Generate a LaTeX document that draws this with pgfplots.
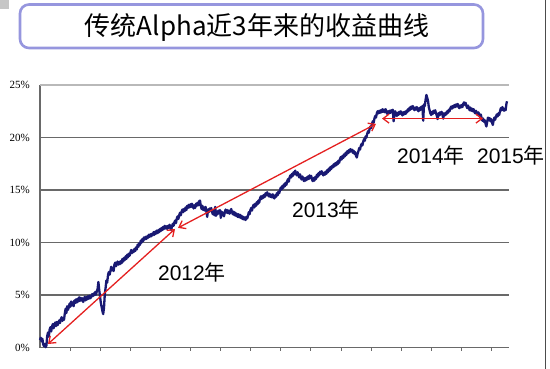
\documentclass[border=0pt]{standalone}
\usepackage{pgfplots}
\pgfplotsset{compat=1.18}
\usepackage{pgfplotstable}
\usepackage{fontspec}
\setmainfont{Liberation Serif}
\newfontfamily\cjk{Noto Sans CJK SC}
\newfontfamily\arial{Liberation Sans}
\usetikzlibrary{arrows.meta}
\definecolor{navyc}{RGB}{25,25,115}
\definecolor{redc}{RGB}{228,32,32}
\definecolor{boxc}{RGB}{150,150,222}
\definecolor{gridc}{RGB}{105,105,105}
\pgfplotstableread{
x y
0 0.73
0.8 0.95
1.6 0.6
2.4 0.85
3.2 0.3
4 0.15
4.8 0.35
5.6 0.05
6.4 0.2
7.2 1.1
8 1.45
8.8 1.05
9.6 1.7
10.4 1.95
11.2 1.55
12 2.0
12.8 2.25
13.6 1.85
14.4 2.2
15.2 2.4
16 2.05
16.8 2.45
17.6 2.15
18.4 2.35
19.2 2.6
20 2.35
20.8 2.7
21.6 2.9
22.4 2.55
23.2 2.85
24 2.65
24.8 3.25
25.6 3.7
26.4 3.3
27.2 3.95
28 3.6
28.8 3.85
29.6 4.2
30.4 3.9
31.2 4.4
32 4.05
32.8 4.3
33.6 3.95
34.4 4.5
35.2 4.25
36 4.6
36.8 4.3
37.6 4.65
38.4 4.4
39.2 4.8
40 4.45
40.8 4.75
41.6 4.5
42.4 4.7
43.2 4.35
44 4.6
44.8 4.85
45.6 4.5
46.4 4.8
47.2 4.6
48 4.9
48.8 4.65
49.6 4.95
50.4 4.7
51.2 4.85
52 5.1
52.8 4.9
53.6 5.15
54.4 5.0
55.2 5.3
56 5.05
56.8 5.35
57.6 5.6
58.4 6.25
59.2 5.5
60 4.9
60.8 4.3
61.6 3.9
62.4 3.5
63.2 3.2
64 3.8
64.8 5.1
65.6 5.7
66.4 6.4
67.2 6.2
68 6.9
68.8 7.2
69.6 6.95
70.4 7.3
71.2 7.7
72 7.35
72.8 7.6
73.6 7.3
74.4 7.9
75.2 8.1
76 7.75
76.8 8.0
77.6 8.2
78.4 7.9
79.2 8.15
80 7.95
80.8 8.25
81.6 8.05
82.4 8.45
83.2 8.2
84 8.55
84.8 8.35
85.6 8.7
86.4 8.45
87.2 8.85
88 8.6
88.8 8.95
89.6 8.75
90.4 9.05
91.2 9.3
92 9.0
92.8 9.25
93.6 9.1
94.4 9.4
95.2 9.2
96 9.55
96.8 9.35
97.6 9.8
98.4 9.6
99.2 9.95
100 9.8
100.8 10.2
101.6 10.0
102.4 10.35
103.2 10.15
104 10.5
104.8 10.3
105.6 10.55
106.4 10.35
107.2 10.6
108 10.45
108.8 10.75
109.6 10.55
110.4 10.8
111.2 10.6
112 10.85
112.8 10.7
113.6 11.0
114.4 10.75
115.2 11.05
116 10.85
116.8 11.15
117.6 10.9
118.4 11.2
119.2 11.0
120 11.3
120.8 11.1
121.6 11.4
122.4 11.2
123.2 11.5
124 11.3
124.8 11.6
125.6 11.35
126.4 11.55
127.2 11.3
128 11.6
128.8 11.4
129.6 11.7
130.4 11.45
131.2 11.2
132 11.55
132.8 11.8
133.6 11.6
134.4 11.95
135.2 12.1
136 11.85
136.8 12.3
137.6 12.5
138.4 12.25
139.2 12.6
140 12.85
140.8 12.6
141.6 12.95
142.4 13.15
143.2 12.9
144 13.2
144.8 13.0
145.6 13.35
146.4 13.1
147.2 13.5
148 13.3
148.8 13.6
149.6 13.35
150.4 13.65
151.2 13.4
152 13.7
152.8 13.5
153.6 13.25
154.4 13.55
155.2 13.3
156 13.7
156.8 13.5
157.6 13.8
158.4 13.55
159.2 13.95
160 14.0
160.8 13.5
161.6 13.2
162.4 13.5
163.2 13.1
164 13.35
164.8 13.05
165.6 13.4
166.4 13.0
167.2 12.45
168 13.15
168.8 12.9
169.6 13.25
170.4 13.0
171.2 13.3
172 12.95
172.8 12.7
173.6 13.05
174.4 12.6
175.2 13.4
176 12.55
176.8 12.95
177.6 12.7
178.4 13.05
179.2 12.8
180 13.1
180.8 12.35
181.6 12.95
182.4 12.6
183.2 12.85
184 12.5
184.8 12.9
185.6 13.15
186.4 12.85
187.2 13.1
188 12.8
188.8 13.05
189.6 12.75
190.4 13.0
191.2 13.2
192 12.9
192.8 12.7
193.6 12.95
194.4 12.6
195.2 12.85
196 12.55
196.8 12.75
197.6 12.45
198.4 12.7
199.2 12.4
200 12.65
200.8 12.35
201.6 12.55
202.4 12.25
203.2 12.45
204 12.2
204.8 12.4
205.6 12.15
206.4 12.45
207.2 12.3
208 12.55
208.8 12.9
209.6 12.7
210.4 13.1
211.2 13.3
212 13.05
212.8 13.4
213.6 13.6
214.4 13.35
215.2 13.7
216 13.5
216.8 13.85
217.6 13.65
218.4 14.0
219.2 13.8
220 14.2
220.8 14.4
221.6 14.15
222.4 14.45
223.2 14.25
224 14.55
224.8 14.35
225.6 14.7
226.4 14.5
227.2 14.8
228 14.6
228.8 14.4
229.6 14.65
230.4 14.35
231.2 14.55
232 14.3
232.8 14.6
233.6 14.35
234.4 14.2
235.2 14.5
236 14.35
236.8 14.7
237.6 14.5
238.4 14.85
239.2 14.7
240 15.0
240.8 15.25
241.6 15.05
242.4 15.4
243.2 15.2
244 15.55
244.8 15.35
245.6 15.7
246.4 15.5
247.2 15.85
248 16.05
248.8 15.8
249.6 16.2
250.4 16.4
251.2 16.2
252 16.55
252.8 16.35
253.6 16.7
254.4 16.5
255.2 16.85
256 16.6
256.8 16.4
257.6 16.7
258.4 16.45
259.2 16.2
260 16.5
260.8 16.25
261.6 16.0
262.4 16.3
263.2 16.05
264 15.85
264.8 16.15
265.6 15.9
266.4 16.2
267.2 16.0
268 16.3
268.8 16.05
269.6 16.4
270.4 16.15
271.2 16.35
272 16.0
272.8 15.85
273.6 16.15
274.4 15.9
275.2 16.25
276 16.05
276.8 16.45
277.6 16.25
278.4 16.6
279.2 16.4
280 16.75
280.8 16.55
281.6 16.8
282.4 16.6
283.2 16.4
284 16.65
284.8 16.45
285.6 16.75
286.4 16.55
287.2 16.9
288 16.7
288.8 17.05
289.6 16.85
290.4 17.2
291.2 17.0
292 17.3
292.8 17.15
293.6 17.45
294.4 17.25
295.2 17.55
296 17.35
296.8 17.65
297.6 17.45
298.4 17.8
299.2 17.6
300 17.95
300.8 18.15
301.6 17.9
302.4 18.25
303.2 18.05
304 18.4
304.8 18.2
305.6 18.55
306.4 18.35
307.2 18.7
308 18.5
308.8 18.8
309.6 18.6
310.4 18.9
311.2 18.7
312 18.85
312.8 18.55
313.6 18.75
314.4 18.45
315.2 18.6
316 18.25
316.8 18.1
317.6 18.45
318.4 18.7
319.2 19.0
320 18.85
320.8 19.2
321.6 19.4
322.4 19.25
323.2 19.6
324 19.85
324.8 19.7
325.6 20.1
326.4 20.0
327.2 20.35
328 20.6
328.8 20.45
329.6 20.85
330.4 21.05
331.2 20.9
332 21.3
332.8 21.55
333.6 21.4
334.4 21.8
335.2 22.05
336 21.9
336.8 22.3
337.6 22.5
338.4 22.3
339.2 22.55
340 22.35
340.8 22.6
341.6 22.4
342.4 22.7
343.2 22.45
344 22.65
344.8 22.4
345.6 22.7
346.4 22.5
347.2 22.25
348 22.5
348.8 22.3
349.6 22.55
350.4 22.35
351.2 22.6
352 22.4
352.8 22.65
353.6 21.55
354.4 22.2
355.2 22.5
356 22.3
356.8 22.05
357.6 22.35
358.4 22.15
359.2 22.45
360 22.25
360.8 22.5
361.6 22.3
362.4 22.1
363.2 22.4
364 22.2
364.8 22.45
365.6 22.25
366.4 22.55
367.2 22.4
368 22.7
368.8 22.55
369.6 22.85
370.4 22.65
371.2 22.95
372 22.75
372.8 23.0
373.6 22.8
374.4 22.6
375.2 22.85
376 22.65
376.8 22.9
377.6 22.7
378.4 22.5
379.2 22.8
380 22.6
380.8 22.9
381.6 22.7
382.4 23.0
383.2 21.6
384 23.15
384.8 23.0
385.6 23.6
386.4 24.05
387.2 23.8
388 23.5
388.8 22.9
389.6 22.6
390.4 22.3
391.2 22.15
392 22.45
392.8 22.25
393.6 22.55
394.4 22.35
395.2 22.6
396 22.3
396.8 22.1
397.6 21.75
398.4 22.3
399.2 22.1
400 22.4
400.8 22.2
401.6 22.45
402.4 22.25
403.2 21.8
404 22.3
404.8 22.1
405.6 22.35
406.4 22.2
407.2 22.5
408 22.35
408.8 22.65
409.6 22.5
410.4 22.8
411.2 22.95
412 22.75
412.8 23.0
413.6 22.85
414.4 23.1
415.2 22.9
416 23.15
416.8 22.95
417.6 23.2
418.4 23.0
419.2 22.8
420 23.05
420.8 22.85
421.6 23.1
422.4 22.9
423.2 23.2
424 23.35
424.8 23.1
425.6 23.3
426.4 23.0
427.2 22.8
428 23.05
428.8 22.85
429.6 22.6
430.4 22.85
431.2 22.55
432 22.75
432.8 22.5
433.6 22.7
434.4 22.45
435.2 22.3
436 22.55
436.8 22.35
437.6 22.15
438.4 22.4
439.2 22.2
440 21.95
440.8 22.2
441.6 21.85
442.4 21.6
443.2 21.8
444 21.5
444.8 21.65
445.6 21.3
446.4 21.05
447.2 21.5
448 21.9
448.8 21.65
449.6 21.85
450.4 21.55
451.2 21.75
452 21.45
452.8 21.2
453.6 21.6
454.4 21.9
455.2 21.7
456 22.0
456.8 22.2
457.6 22.0
458.4 22.3
459.2 22.15
460 22.5
460.8 22.8
461.6 22.6
462.4 22.9
463.2 22.7
464 22.55
464.8 22.75
465.6 22.6
466.4 23.2
467 23.45
}\curve
\begin{document}
\begin{tikzpicture}[x=1pt,y=1pt]
\path[use as bounding box] (0,0) rectangle (550,369);
\fill[gray!45] (0,369) rectangle (9,360);
\draw[boxc, line width=2.6pt, rounded corners=9pt] (20,364.5) rectangle (483,321);
\node at (257,341) {\cjk\fontsize{26}{26}\selectfont 传统Alpha近3年来的收益曲线};
\draw[gray!60!black, line width=0.8pt] (545.5,0) -- (545.5,369);
\begin{axis}[
  at={(40pt,21.3pt)}, anchor=south west,
  scale only axis, width=469pt, height=262.7pt,
  xmin=0, xmax=469, ymin=0, ymax=25,
  axis x line*=bottom, axis y line*=left,
  axis line style={-, gridc, line width=1.4pt},
  xtick={30.1,60.2,90.3,120.4,150.5,180.6,210.7,240.8,270.9,301,331.1,361.2,391.3,421.4,451.5},
  xticklabels={},
  xtick align=outside, major tick length=3pt,
  xtick style={gridc, line width=0.9pt},
  ytick={0,5,10,15,20},
  yticklabels={0\%,5\%,10\%,15\%,20\%},
  extra y ticks={25}, extra y tick labels={25\%},
  extra y tick style={grid style={gray!55, line width=1.4pt}},
  ytick style={draw=none},
  ymajorgrids, grid style={gridc, line width=1.4pt},
  yticklabel style={font=\fontsize{11}{11}\selectfont, inner sep=0pt, xshift=-10pt},
  clip=false,
]
\addplot[navyc, line width=2.3pt, line join=round] table {\curve};
\addplot[redc, line width=1.3pt, arrows={Straight Barb[length=6pt,width=9pt]-Straight Barb[length=6pt,width=9pt]}] coordinates {(8,0.35) (135,11.3)};
\addplot[redc, line width=1.3pt, arrows={Straight Barb[length=6pt,width=9pt]-Straight Barb[length=6pt,width=9pt]}] coordinates {(138,11.4) (336,21.3)};
\addplot[redc, line width=1.3pt, arrows={Straight Barb[length=6pt,width=9pt]-Straight Barb[length=6pt,width=9pt]}] coordinates {(342,21.8) (443,21.8)};
\end{axis}
\node[font=\arial\fontsize{21}{21}\selectfont] at (192,97) {2012{\cjk 年}};
\node[font=\arial\fontsize{21}{21}\selectfont] at (326,160) {2013{\cjk 年}};
\node[font=\arial\fontsize{21}{21}\selectfont] at (431,214) {2014{\cjk 年}};
\node[font=\arial\fontsize{21}{21}\selectfont] at (511,214) {2015{\cjk 年}};
\end{tikzpicture}
\end{document}
